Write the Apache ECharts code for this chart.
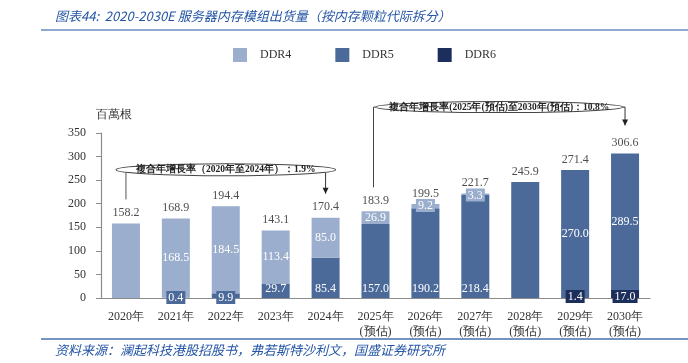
<!DOCTYPE html>
<html>
<head>
<meta charset="utf-8">
<script src="https://cdn.jsdelivr.net/npm/echarts@6/dist/echarts.min.js"></script>
<style>html,body{margin:0;padding:0;background:#fff;}#c{width:688px;height:363px;}</style>
</head>
<body>
<div id="c"></div>
<script>
const categories = ['2020年','2021年','2022年','2023年','2024年','2025年\n(预估)','2026年\n(预估)','2027年\n(预估)','2028年\n(预估)','2029年\n(预估)','2030年\n(预估)'];
const ddr4 = [158.2,168.5,184.5,113.4,85.0,26.9,9.2,3.3,0,0,0];
const ddr5 = [0,0.4,9.9,29.7,85.4,157.0,190.2,218.4,245.9,270.0,289.5];
const ddr6 = [0,0,0,0,0,0,0,0,0,1.4,17.0];
const totals = [158.2,168.9,194.4,143.1,170.4,183.9,199.5,221.7,245.9,271.4,306.6];
const yMin = 0, yMax = 350, yStep = 50;
const titleText = '图表44:  2020-2030E 服务器内存模组出货量（按内存颗粒代际拆分）';
const sourceText = '资料来源：澜起科技港股招股书，弗若斯特沙利文，国盛证券研究所';
const unitText = '百萬根';
const cagr1 = '複合年增長率（2020年至2024年）：1.9%';
const cagr2 = '複合年增長率(2025年(預估)至2030年(預估)：10.8%';

const C4 = '#9baecd', C5 = '#4b6a9a', C6 = '#1c2e5c';
const SERIF = '"Liberation Serif","Times New Roman",serif';

function buildData(values, kind, color) {
  return values.map((v, i) => {
    const show = v > 0 && Math.abs(v - totals[i]) > 1e-6;
    const small = v < 20;
    const lab = {show: show, formatter: v.toFixed(1), color: '#fff', fontFamily: SERIF, fontSize: 12};
    if (small) { lab.backgroundColor = color; lab.padding = [1, 2, 0, 2]; }
    if (kind === 'ddr4') {
      if (small) { lab.position = 'insideTop'; lab.distance = 0; lab.offset = [0, -5]; }
      else lab.position = 'inside';
    } else if (kind === 'ddr5') {
      if (small) { lab.position = 'insideBottom'; lab.distance = 0; lab.offset = [0, 6]; }
      else if (ddr6[i] > 0) lab.position = 'inside';
      else { lab.position = 'insideBottom'; lab.distance = 3; }
    } else {
      lab.position = 'insideBottom'; lab.distance = 0; lab.offset = [0, 5];
    }
    return {value: v, label: lab};
  });
}

const chart = echarts.init(document.getElementById('c'));
const option = {
  animation: false,
  title: [
    {text: titleText, left: 50, top: 5, textStyle: {fontSize: 13, fontStyle: 'italic', fontWeight: 'normal', color: '#2456a5', fontFamily: '"Noto Sans CJK SC",sans-serif'}},
    {text: sourceText, left: 50, top: 339, textStyle: {fontSize: 13, fontStyle: 'italic', fontWeight: 'normal', color: '#2456a5', fontFamily: '"Noto Sans CJK SC",sans-serif'}}
  ],
  legend: {
    data: ['DDR4','DDR5','DDR6'], left: 228, top: 43, icon: 'rect', itemWidth: 14, itemHeight: 14, itemGap: 44,
    textStyle: {fontFamily: SERIF, fontSize: 12, color: '#333', padding: [0,0,0,8]}
  },
  grid: {left: 101, right: 38, top: 133, bottom: 65},
  xAxis: {
    type: 'category', data: categories,
    axisLine: {lineStyle: {color: '#8c8c8c', width: 1.2}},
    axisTick: {show: false},
    axisLabel: {fontFamily: SERIF, fontSize: 12, color: '#333', margin: 11, lineHeight: 15}
  },
  yAxis: {
    type: 'value', min: yMin, max: yMax, interval: yStep,
    name: unitText, nameLocation: 'end', nameGap: 12,
    nameTextStyle: {fontFamily: SERIF, fontSize: 12, color: '#333', align: 'left', padding: [0,0,0,-5]},
    axisLine: {show: true, lineStyle: {color: '#8c8c8c', width: 1.2}},
    axisTick: {show: true, length: 5, lineStyle: {color: '#8c8c8c'}},
    splitLine: {show: false},
    axisLabel: {fontFamily: SERIF, fontSize: 12, color: '#333', margin: 15}
  },
  series: [
    {name: 'DDR6', type: 'bar', stack: 's', barWidth: 28, itemStyle: {color: C6}, data: buildData(ddr6, 'ddr6', C6), z: 3},
    {name: 'DDR5', type: 'bar', stack: 's', barWidth: 28, itemStyle: {color: C5}, data: buildData(ddr5, 'ddr5', C5), z: 2},
    {name: 'DDR4', type: 'bar', stack: 's', barWidth: 28, itemStyle: {color: C4}, data: buildData(ddr4, 'ddr4', C4), z: 2},
    {name: 'total', type: 'scatter', data: totals, symbolSize: 1, itemStyle: {color: 'rgba(0,0,0,0)'}, silent: true, z: 5,
     label: {show: true, position: 'top', distance: 4, formatter: p => p.value.toFixed(1), fontFamily: SERIF, fontSize: 12, color: '#222'}}
  ]
};
chart.setOption(option);

function px(i, v) { return chart.convertToPixel({gridIndex: 0}, [i, v]); }
const g = [];
g.push({type: 'line', shape: {x1: 41, y1: 30, x2: 688, y2: 30}, style: {stroke: '#8ea8d2', lineWidth: 2}});
g.push({type: 'line', shape: {x1: 41, y1: 339, x2: 688, y2: 339}, style: {stroke: '#4a70ad', lineWidth: 1.5}});

function arrowHead(x, y) {
  return {type: 'polygon', shape: {points: [[x - 3, y - 6], [x + 3, y - 6], [x, y]]}, style: {fill: '#222'}};
}
{
  const a = px(0, 0)[0], b = px(4, 0)[0];
  const cx = (a + b) / 2, rx = (b - a) / 2 + 10, cy = px(0, 272)[1], ry = 6;
  const endL = px(0, totals[0])[1] - 24, endR = px(4, totals[4])[1] - 24;
  g.push({type: 'line', shape: {x1: a, y1: cy + 3, x2: a, y2: endL}, style: {stroke: '#555', lineWidth: 1}});
  g.push({type: 'line', shape: {x1: b, y1: cy + 3, x2: b, y2: endR}, style: {stroke: '#333', lineWidth: 1}});
  g.push(arrowHead(b, endR));
  g.push({type: 'ellipse', shape: {cx: cx, cy: cy, rx: rx, ry: ry}, style: {fill: '#fff', stroke: '#444', lineWidth: 1.1}});
  g.push({type: 'text', x: cx, y: cy, style: {text: cagr1, fill: '#222', font: 'bold 9.5px ' + SERIF, textAlign: 'center', textVerticalAlign: 'middle'}});
}
{
  const a = px(5, 0)[0], b = px(10, 0)[0];
  const cx = (a + b) / 2 - 1, rx = (b - a) / 2 - 1, cy = px(0, 405)[1], ry = 5.5;
  const endL = px(5, totals[5])[1] - 24, endR = px(10, totals[10])[1] - 28;
  g.push({type: 'polyline', shape: {points: [[cx - rx, cy], [a - 2, cy], [a - 2, endL]]}, style: {stroke: '#444', lineWidth: 1, fill: null}});
  g.push({type: 'polyline', shape: {points: [[cx + rx, cy], [b, cy], [b, endR]]}, style: {stroke: '#333', lineWidth: 1, fill: null}});
  g.push(arrowHead(b, endR));
  g.push({type: 'ellipse', shape: {cx: cx, cy: cy, rx: rx, ry: ry}, style: {fill: '#fff', stroke: '#444', lineWidth: 1.1}});
  g.push({type: 'text', x: cx, y: cy, style: {text: cagr2, fill: '#222', font: 'bold 9.5px ' + SERIF, textAlign: 'center', textVerticalAlign: 'middle'}});
}
chart.setOption({graphic: g});
</script>
</body>
</html>
